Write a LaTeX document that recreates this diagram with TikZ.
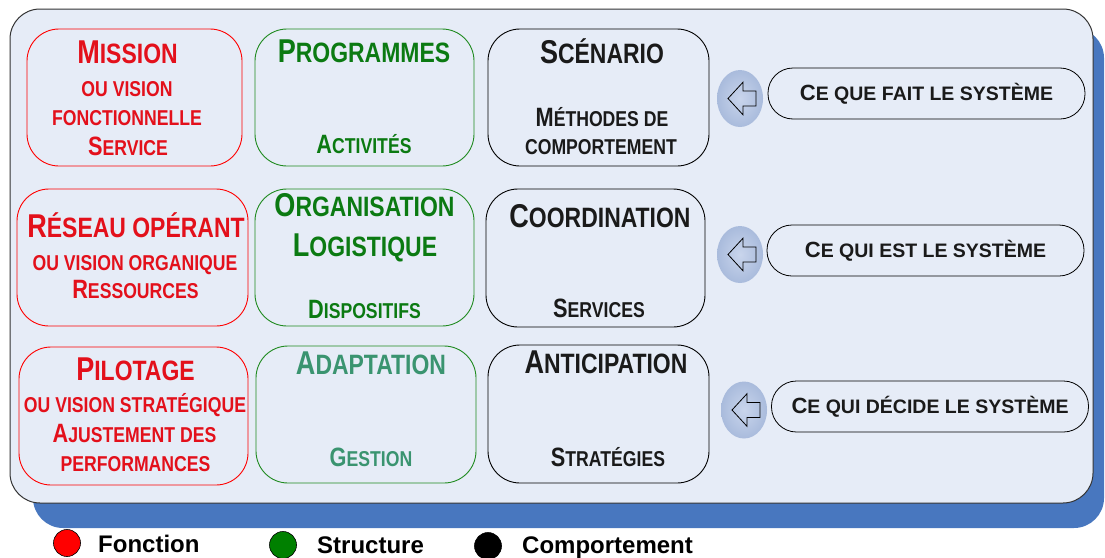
\documentclass[tikz,border=0pt]{standalone}
\usepackage{fontspec}
\setmainfont{Liberation Sans}
\newfontfamily\etroit{Liberation Sans}[FakeStretch=0.82]
\usetikzlibrary{calc, shapes.geometric}
\definecolor{fondPanneau}{HTML}{E6ECF7}
\definecolor{ombreBleu}{HTML}{4877BF}
\definecolor{rougeFonction}{HTML}{FF0000}
\definecolor{texteRouge}{HTML}{E3101B}
\definecolor{vertStructure}{HTML}{1F8A1F}
\definecolor{texteVert}{HTML}{0B7A12}
\definecolor{vertClair}{HTML}{3A9470}
\definecolor{texteNoir}{HTML}{1A1A1A}
\definecolor{bulleClair}{HTML}{C9D5EC}
\definecolor{bulleBleu}{HTML}{A9BBDC}

% petites capitales simulees
\newcommand{\titrepc}[2]{{\fontsize{33}{36}\selectfont #1}{\fontsize{28}{30}\selectfont #2}}
\newcommand{\souspc}[2]{{\fontsize{26.5}{28}\selectfont #1}{\fontsize{21.5}{24}\selectfont #2}}
\newcommand{\bullepc}[2]{{\fontsize{22}{24}\selectfont #1}{\fontsize{19.5}{22}\selectfont #2}}

\begin{document}
\begin{tikzpicture}[x=1pt, y=-1pt,
    boite/.style={draw, line width=0.9pt, rounded corners=32pt, inner sep=0pt},
    ttl/.style={font=\etroit\bfseries, anchor=base, inner sep=0pt},
    bulle/.style={draw=black, line width=0.8pt, rounded corners=25pt, minimum width=317pt,
      minimum height=51pt, inner sep=0pt, font=\bfseries, text=texteNoir},
    oeil/.style={ellipse, inner color=bulleClair, outer color=bulleBleu, minimum width=46pt,
      minimum height=57pt, inner sep=0pt},
    fleche/.style={draw=black, line width=0.8pt, line join=miter},
    puce/.style={circle, draw=black, line width=0.6pt, minimum size=27pt, inner sep=0pt},
    legende/.style={font=\bfseries\fontsize{24}{26}\selectfont, anchor=base west, inner sep=0pt}]

  \useasboundingbox (0,0) rectangle (1105,557);

  % panneau et ombre
  \fill[ombreBleu, rounded corners=30pt] (33,28) rectangle (1104,528);
  \draw[fill=fondPanneau, draw=black!80, line width=1pt, rounded corners=30pt] (10,9) rectangle (1093,503);

  % fonction
  \node[boite, draw=rougeFonction, minimum width=215pt, minimum height=137pt] (mis) at (134.5,97.5) {};
  \node[boite, draw=rougeFonction, minimum width=231pt, minimum height=137pt] (res) at (132.5,257.5) {};
  \node[boite, draw=rougeFonction, minimum width=229pt, minimum height=138pt] (pil) at (133.5,416) {};

  % structure
  \node[boite, draw=vertStructure, minimum width=219pt, minimum height=137pt] (prog) at (364.5,97.5) {};
  \node[boite, draw=vertStructure, minimum width=219pt, minimum height=137pt] (orga) at (364.5,257.5) {};
  \node[boite, draw=vertStructure, minimum width=220pt, minimum height=137pt] (adap) at (366,414.5) {};

  % comportement
  \node[boite, draw=black, minimum width=221pt, minimum height=137pt] (scen) at (598.5,97.5) {};
  \node[boite, draw=black, minimum width=219pt, minimum height=138pt] (coord) at (595.5,258) {};
  \node[boite, draw=black, minimum width=221pt, minimum height=138pt] (anti) at (598.5,414) {};

  % textes colonne rouge
  \node[ttl, text=texteRouge] (misA) at (127.5,63) {\titrepc{M}{ISSION}};
  \node[ttl, text=texteRouge] (misB) at (127,96)   {\souspc{}{OU VISION}};
  \node[ttl, text=texteRouge] (misC) at (127,125)  {\souspc{}{FONCTIONNELLE}};
  \node[ttl, text=texteRouge] (misD) at (128,155)  {\souspc{S}{ERVICE}};
  \node[ttl, text=texteRouge] (resA) at (136,237)   {\titrepc{R}{ÉSEAU OPÉRANT}};
  \node[ttl, text=texteRouge] (resB) at (135,270)   {\souspc{}{OU VISION ORGANIQUE}};
  \node[ttl, text=texteRouge] (resC) at (135.5,298) {\souspc{R}{ESSOURCES}};
  \node[ttl, text=texteRouge] (pilA) at (135.5,380) {\titrepc{P}{ILOTAGE}};
  \node[ttl, text=texteRouge] (pilB) at (135,412)   {\souspc{}{OU VISION STRATÉGIQUE}};
  \node[ttl, text=texteRouge] (pilC) at (134.5,442) {\souspc{A}{JUSTEMENT DES}};
  \node[ttl, text=texteRouge] (pilD) at (135.5,471) {\souspc{}{PERFORMANCES}};

  % textes colonne verte
  \node[ttl, text=texteVert] (progA) at (364,62)    {\titrepc{P}{ROGRAMMES}};
  \node[ttl, text=texteVert] (progB) at (364,153)   {\souspc{A}{CTIVITÉS}};
  \node[ttl, text=texteVert] (orgaA) at (364.5,216) {\titrepc{O}{RGANISATION}};
  \node[ttl, text=texteVert] (orgaB) at (365,256)   {\titrepc{L}{OGISTIQUE}};
  \node[ttl, text=texteVert] (orgaC) at (364.5,318) {\souspc{D}{ISPOSITIFS}};
  \node[ttl, text=vertClair] (adapA) at (371,374)   {\titrepc{A}{DAPTATION}};
  \node[ttl, text=vertClair] (adapB) at (371,466)   {\souspc{G}{ESTION}};

  % textes colonne noire
  \node[ttl, text=texteNoir] (scenA) at (602,63)   {\titrepc{S}{CÉNARIO}};
  \node[ttl, text=texteNoir] (scenB) at (602,126)  {\souspc{M}{ÉTHODES DE}};
  \node[ttl, text=texteNoir] (scenC) at (601,154)  {\souspc{}{COMPORTEMENT}};
  \node[ttl, text=texteNoir] (coordA) at (600,227) {\titrepc{C}{OORDINATION}};
  \node[ttl, text=texteNoir] (coordB) at (599,317) {\souspc{S}{ERVICES}};
  \node[ttl, text=texteNoir] (antiA) at (606,373)  {\titrepc{A}{NTICIPATION}};
  \node[ttl, text=texteNoir] (antiB) at (608,466)  {\souspc{S}{TRATÉGIES}};

  % bulles de droite
  \node[oeil] (fl1) at (740,98.5) {};
  \node[oeil] (fl2) at (740,254.5) {};
  \node[oeil] (fl3) at (744,410) {};
  \node[bulle] (ce1) at (926.5,93.5)  {\bullepc{C}{E QUE FAIT LE SYSTÈME}};
  \node[bulle] (ce2) at (925.5,250.5) {\bullepc{C}{E QUI EST LE SYSTÈME}};
  \node[bulle] (ce3) at (930,406.5)   {\bullepc{C}{E QUI DÉCIDE LE SYSTÈME}};

  \foreach \n in {1,2,3} {
    \draw[fleche] ($(fl\n)+(-12,0)$) -- ++(15,-16.3) -- ++(0,8.8) -- ++(13,0)
      -- ++(0,15) -- ++(-13,0) -- ++(0,8.8) -- cycle;
  }

  % legende
  \node[puce, fill=red] (pf) at (67,543) {};
  \node[puce, fill=green!50!black] (ps) at (283,545) {};
  \node[puce, fill=black] (pc) at (488,546) {};
  \node[legende] (lf) at (98,552)  {Fonction};
  \node[legende] (ls) at (317,553) {Structure};
  \node[legende] (lc) at (522,553) {Comportement};
\end{tikzpicture}
\end{document}
